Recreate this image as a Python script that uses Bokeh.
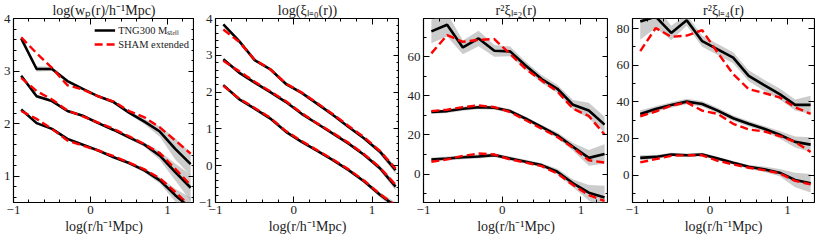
from bokeh.plotting import figure
from bokeh.layouts import row
from bokeh.models import FixedTicker, LinearAxis, Range1d, Legend, LegendItem
from bokeh.embed import file_html
from bokeh.resources import INLINE

# ---------------- data ----------------
log_r = [-0.9, -0.7, -0.5, -0.3, -0.1, 0.1, 0.3, 0.5, 0.7, 0.9, 1.1, 1.3]

# panel 1: log wp
wp_tng_1 = [3.62, 3.04, 3.04, 2.81, 2.66, 2.52, 2.41, 2.21, 2.04, 1.85, 1.52, 1.23]
wp_sham_1 = [3.64, 3.34, 3.06, 2.73, 2.65, 2.52, 2.42, 2.24, 2.12, 1.93, 1.68, 1.43]
wp_err_1 = [0.05, 0.05, 0.04, 0.03, 0.02, 0.02, 0.03, 0.03, 0.05, 0.10, 0.20, 0.22]
wp_tng_2 = [2.91, 2.52, 2.43, 2.24, 2.15, 2.01, 1.88, 1.74, 1.60, 1.39, 1.08, 0.78]
wp_sham_2 = [2.87, 2.62, 2.46, 2.25, 2.14, 2.02, 1.90, 1.76, 1.61, 1.44, 1.14, 0.83]
wp_err_2 = [0.03, 0.03, 0.03, 0.02, 0.02, 0.02, 0.02, 0.03, 0.04, 0.08, 0.16, 0.25]
wp_tng_3 = [2.27, 2.01, 1.90, 1.71, 1.60, 1.49, 1.36, 1.25, 1.11, 0.92, 0.64, 0.39]
wp_sham_3 = [2.24, 2.09, 1.90, 1.68, 1.58, 1.49, 1.38, 1.26, 1.13, 0.96, 0.70, 0.42]
wp_err_3 = [0.02, 0.02, 0.02, 0.02, 0.02, 0.02, 0.02, 0.03, 0.04, 0.06, 0.12, 0.20]

# panel 2: log xi_0
xi0_tng_1 = [3.84, 3.39, 2.87, 2.62, 2.22, 1.98, 1.68, 1.38, 1.05, 0.74, 0.38, -0.12]
xi0_sham_1 = [3.70, 3.37, 2.88, 2.62, 2.23, 1.99, 1.70, 1.40, 1.08, 0.77, 0.40, -0.08]
xi0_err_1 = [0.02, 0.02, 0.02, 0.02, 0.02, 0.02, 0.02, 0.02, 0.03, 0.04, 0.07, 0.10]
xi0_tng_2 = [2.89, 2.53, 2.26, 2.00, 1.73, 1.41, 1.14, 0.87, 0.60, 0.29, -0.07, -0.57]
xi0_sham_2 = [2.85, 2.57, 2.28, 2.02, 1.75, 1.43, 1.15, 0.89, 0.62, 0.31, -0.05, -0.52]
xi0_err_2 = [0.02, 0.02, 0.02, 0.02, 0.02, 0.02, 0.02, 0.02, 0.03, 0.04, 0.07, 0.10]
xi0_tng_3 = [2.19, 1.81, 1.55, 1.28, 0.92, 0.65, 0.40, 0.15, -0.12, -0.43, -0.79, -1.10]
xi0_sham_3 = [2.17, 1.83, 1.57, 1.30, 0.94, 0.67, 0.42, 0.17, -0.10, -0.41, -0.77, -1.08]
xi0_err_3 = [0.02, 0.02, 0.02, 0.02, 0.02, 0.02, 0.02, 0.02, 0.03, 0.04, 0.07, 0.10]

# panel 3: r^2 xi_2
xi2_tng_1 = [72.9, 76.3, 64.7, 69.3, 63.0, 62.7, 55.4, 48.6, 43.6, 35.4, 32.5, 25.3]
xi2_sham_1 = [61.7, 71.0, 67.6, 68.6, 69.0, 61.4, 53.7, 47.8, 42.2, 33.4, 29.7, 20.2]
xi2_err_1 = [6.0, 6.0, 3.5, 4.0, 3.0, 2.5, 2.0, 2.0, 2.0, 2.5, 4.0, 4.0]
xi2_tng_2 = [31.7, 32.2, 33.4, 34.2, 33.9, 32.2, 28.3, 24.1, 19.8, 13.9, 8.3, 10.3]
xi2_sham_2 = [32.2, 32.9, 34.2, 35.1, 34.2, 31.7, 27.5, 23.2, 19.0, 13.4, 7.1, 5.9]
xi2_err_2 = [1.0, 1.0, 1.0, 1.0, 1.0, 1.0, 1.0, 1.0, 1.5, 2.0, 4.0, 5.0]
xi2_tng_3 = [7.5, 8.0, 8.6, 9.0, 9.7, 8.0, 6.3, 4.6, 1.2, -4.7, -9.5, -11.9]
xi2_sham_3 = [6.3, 7.5, 9.3, 10.5, 10.0, 7.5, 5.9, 4.1, 0.3, -5.6, -10.7, -13.7]
xi2_err_3 = [1.0, 1.0, 1.0, 1.0, 1.0, 1.0, 1.0, 1.0, 1.5, 2.0, 4.0, 6.0]

# panel 4: r^2 xi_4
xi4_tng_1 = [83.9, 86.5, 77.6, 84.5, 73.1, 68.6, 64.1, 54.2, 49.1, 44.2, 38.3, 38.3]
xi4_sham_1 = [67.7, 80.3, 75.5, 76.2, 79.1, 66.8, 55.1, 46.9, 44.8, 42.4, 37.0, 33.4]
xi4_err_1 = [10.0, 6.0, 4.0, 3.0, 3.0, 3.0, 3.0, 3.0, 3.0, 3.0, 3.0, 5.0]
xi4_tng_2 = [33.4, 36.1, 38.3, 40.1, 38.8, 35.2, 31.0, 28.0, 25.3, 22.0, 18.1, 16.6]
xi4_sham_2 = [32.1, 34.7, 37.9, 39.7, 35.2, 33.4, 28.0, 24.9, 23.8, 21.3, 18.1, 12.6]
xi4_err_2 = [2.0, 1.5, 1.5, 1.5, 1.5, 1.5, 1.5, 1.5, 1.5, 2.0, 3.0, 4.0]
xi4_tng_3 = [9.4, 9.9, 11.2, 10.8, 11.2, 9.0, 6.7, 4.5, 3.1, 1.3, -2.7, -4.5]
xi4_sham_3 = [6.9, 8.7, 10.5, 10.8, 10.8, 7.8, 5.8, 4.0, 2.7, 0.9, -3.2, -5.1]
xi4_err_3 = [1.5, 1.0, 1.0, 1.0, 1.0, 1.0, 1.0, 1.0, 1.5, 2.0, 4.0, 5.0]

titles = ["log(wₚ(r)/h⁻¹Mpc)", "log(ξₗ₌₀(r))", "r²ξₗ₌₂(r)", "r²ξₗ₌₄(r)"]
x_label = "log(r/h⁻¹Mpc)"
legend_labels = ["TNG300 Mₛₜₑₗₗ", "SHAM extended"]

x_ticks = [-1, 0, 1]
x_minor = [-0.8, -0.6, -0.4, -0.2, 0.2, 0.4, 0.6, 0.8, 1.2]
y_ticks = [[1, 2, 3, 4], [-1, 0, 1, 2, 3, 4], [0, 20, 40, 60], [0, 20, 40, 60, 80]]
y_minor = [
    [0.6, 0.8, 1.2, 1.4, 1.6, 1.8, 2.2, 2.4, 2.6, 2.8, 3.2, 3.4, 3.6, 3.8],
    [-0.8, -0.6, -0.4, -0.2, 0.2, 0.4, 0.6, 0.8, 1.2, 1.4, 1.6, 1.8, 2.2,
     2.4, 2.6, 2.8, 3.2, 3.4, 3.6, 3.8],
    [-10, 10, 30, 50, 70],
    [-10, 10, 30, 50, 70],
]
y_ranges = [(0.5, 4.0), (-1.0, 4.0), (-14.5, 79.5), (-15.0, 85.5)]
x_range = (-1.0, 1.35)

panels = [
    [(wp_tng_1, wp_sham_1, wp_err_1), (wp_tng_2, wp_sham_2, wp_err_2), (wp_tng_3, wp_sham_3, wp_err_3)],
    [(xi0_tng_1, xi0_sham_1, xi0_err_1), (xi0_tng_2, xi0_sham_2, xi0_err_2), (xi0_tng_3, xi0_sham_3, xi0_err_3)],
    [(xi2_tng_1, xi2_sham_1, xi2_err_1), (xi2_tng_2, xi2_sham_2, xi2_err_2), (xi2_tng_3, xi2_sham_3, xi2_err_3)],
    [(xi4_tng_1, xi4_sham_1, xi4_err_1), (xi4_tng_2, xi4_sham_2, xi4_err_2), (xi4_tng_3, xi4_sham_3, xi4_err_3)],
]

# ---------------- layout ----------------
FONT = "Liberation Serif"
frame_w = [181, 184, 185, 182]
border_l = [12, 21, 24, 24]
border_r = [0, 0, 0, 1]
FRAME_H = 184


def tick_style(ax):
    ax.axis_line_color = None
    ax.major_tick_out = 0
    ax.minor_tick_out = 0
    ax.major_tick_line_color = "black"
    ax.minor_tick_line_color = "black"
    ax.major_tick_line_width = 1
    ax.minor_tick_line_width = 1


def style_axis(ax, ticks, minor):
    ax.ticker = FixedTicker(ticks=ticks, minor_ticks=minor)
    tick_style(ax)
    ax.major_tick_in = 6
    ax.minor_tick_in = 3
    ax.major_label_standoff = 3
    ax.major_label_overrides = {t: (str(t).replace("-", "−")) for t in ticks}
    ax.major_label_text_font = FONT
    ax.major_label_text_font_size = "13px"
    ax.major_label_text_color = "#222222"


def mirror_axes(p, side, ticks, minor):
    # label-free axes that only draw inward ticks on the opposite side
    for positions, length in ((ticks, 6), (minor, 3)):
        ax = LinearAxis(ticker=FixedTicker(ticks=[], minor_ticks=positions))
        tick_style(ax)
        ax.major_tick_in = 0
        ax.minor_tick_in = length
        ax.major_label_standoff = 0
        p.add_layout(ax, side)


figs = []
for i in range(4):
    p = figure(
        frame_width=frame_w[i], frame_height=FRAME_H,
        x_range=Range1d(*x_range), y_range=Range1d(*y_ranges[i]),
        output_backend="svg", toolbar_location=None,
        min_border_left=border_l[i], min_border_right=border_r[i],
        min_border_top=0, min_border_bottom=0,
    )
    p.grid.visible = False
    p.outline_line_color = "black"
    p.outline_line_width = 1.2
    p.background_fill_color = "white"
    p.border_fill_color = "white"

    p.title.text = titles[i]
    p.title.align = "center"
    p.title.text_font = FONT
    p.title.text_font_size = "14px"
    p.title.text_font_style = "normal"
    p.title.text_color = "#222222"
    p.title.standoff = 1
    p.title.offset = 0

    style_axis(p.xaxis[0], x_ticks, x_minor)
    style_axis(p.yaxis[0], y_ticks[i], y_minor[i])
    p.xaxis[0].axis_label = x_label
    p.xaxis[0].axis_label_text_font = FONT
    p.xaxis[0].axis_label_text_font_size = "14px"
    p.xaxis[0].axis_label_text_font_style = "normal"
    p.xaxis[0].axis_label_text_color = "#222222"
    p.xaxis[0].axis_label_standoff = 2

    mirror_axes(p, "above", x_ticks, x_minor)
    mirror_axes(p, "right", y_ticks[i], y_minor[i])

    for (tng, sham, err) in panels[i]:
        lo = [a - b for a, b in zip(tng, err)]
        hi = [a + b for a, b in zip(tng, err)]
        p.varea(x=log_r, y1=lo, y2=hi, fill_color="#999999", fill_alpha=0.5)
    items_black = None
    items_red = None
    for (tng, sham, err) in panels[i]:
        rb = p.line(log_r, tng, line_color="black", line_width=2.6)
        rr = p.line(log_r, sham, line_color="#ff0000", line_width=2.4, line_dash="8 4")
        if items_black is None:
            items_black, items_red = rb, rr

    if i == 0:
        legend = Legend(
            items=[LegendItem(label=legend_labels[0], renderers=[items_black]),
                   LegendItem(label=legend_labels[1], renderers=[items_red])],
            location="top_right",
        )
        legend.background_fill_alpha = 0
        legend.border_line_color = None
        legend.label_text_font = FONT
        legend.label_text_font_size = "10.5px"
        legend.label_text_color = "#222222"
        legend.glyph_width = 21
        legend.glyph_height = 12
        legend.label_height = 12
        legend.label_standoff = 3
        legend.spacing = 1
        legend.padding = 2
        legend.margin = 5
        p.add_layout(legend)

    figs.append(p)

layout = row(*figs, spacing=0)
open("out.html", "w").write(file_html(layout, INLINE))
